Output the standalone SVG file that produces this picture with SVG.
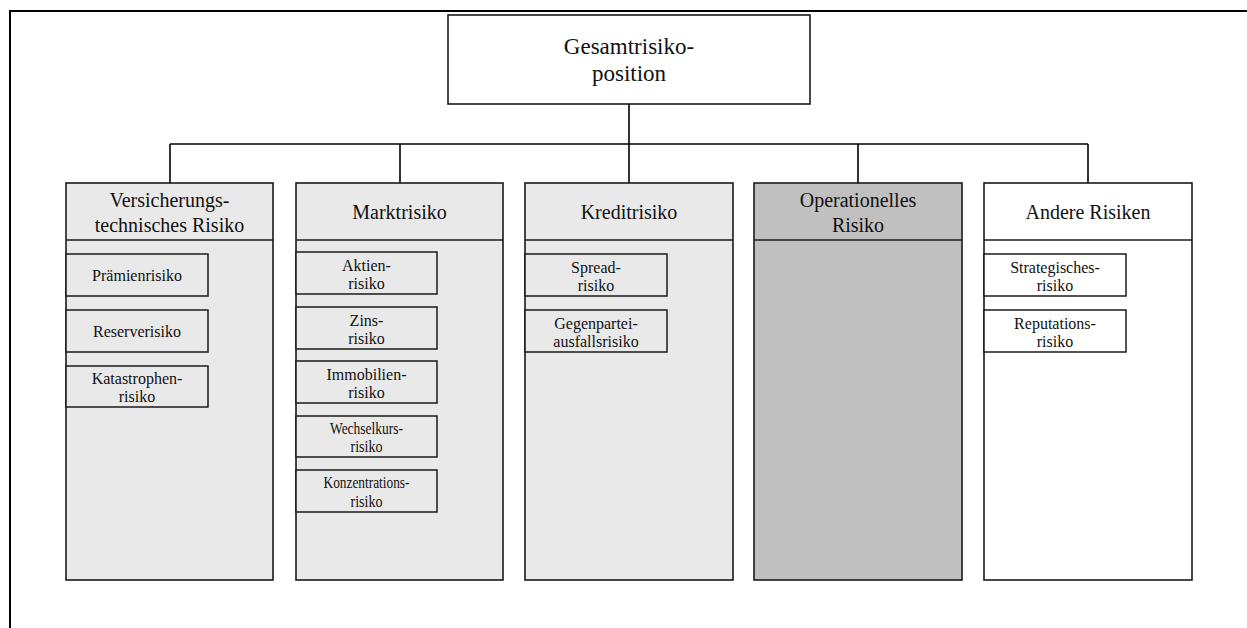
<svg xmlns="http://www.w3.org/2000/svg" width="1247" height="628" viewBox="0 0 1247 628">
<style>
text{font-family:"Liberation Serif","Times New Roman",serif;fill:#111;text-anchor:middle}
.col{stroke:#1a1a1a;stroke-width:1.6}
.lg{fill:#e9e9e9}.dg{fill:#c0c0c0}.wh{fill:#fff}
.sub{stroke:#1a1a1a;stroke-width:1.5}
.hd{font-size:20px}.st{font-size:16px}.tp{font-size:23px}
.conn line{stroke:#000;stroke-width:1.6}
</style>
<rect width="1247" height="628" fill="#fff"/>
<g id="frame"><polyline points="10,628 10,11 1247,11" fill="none" stroke="#000" stroke-width="2"/></g>
<g class="conn" id="connectors">
<line x1="629" y1="104" x2="629" y2="183"/>
<line x1="170" y1="144" x2="1088" y2="144"/>
<line x1="170" y1="144" x2="170" y2="183"/>
<line x1="400" y1="144" x2="400" y2="183"/>
<line x1="858" y1="144" x2="858" y2="183"/>
<line x1="1088" y1="144" x2="1088" y2="183"/>
</g>
<g id="top">
<rect x="448" y="15" width="362" height="89" class="wh" stroke="#1a1a1a" stroke-width="1.6"/>
<text x="629" y="54" class="tp">Gesamtrisiko-</text>
<text x="629" y="81" class="tp">position</text>
</g>
<g id="versicherung">
<rect x="66" y="183" width="207" height="397" class="col lg"/>
<line x1="66" y1="240" x2="273" y2="240" class="col"/>
<text x="169.5" y="207" class="hd">Versicherungs-</text>
<text x="169.5" y="232" class="hd">technisches Risiko</text>
<g id="praemien"><rect x="66" y="254" width="142" height="42" class="sub lg"/><text x="137" y="280.5" class="st">Prämienrisiko</text></g>
<g id="reserve"><rect x="66" y="310" width="142" height="42" class="sub lg"/><text x="137" y="336.5" class="st">Reserverisiko</text></g>
<g id="katastrophen"><rect x="66" y="366" width="142" height="41" class="sub lg"/><text x="137" y="383.5" class="st">Katastrophen-</text><text x="137" y="401.5" class="st">risiko</text></g>
</g>
<g id="markt">
<rect x="296" y="183" width="207" height="397" class="col lg"/>
<line x1="296" y1="240" x2="503" y2="240" class="col"/>
<text x="399.5" y="219" class="hd">Marktrisiko</text>
<g id="aktien"><rect x="296" y="252" width="141" height="42" class="sub lg"/><text x="366.5" y="270.5" class="st">Aktien-</text><text x="366.5" y="289" class="st">risiko</text></g>
<g id="zins"><rect x="296" y="307" width="141" height="42" class="sub lg"/><text x="366.5" y="325.5" class="st">Zins-</text><text x="366.5" y="344" class="st">risiko</text></g>
<g id="immobilien"><rect x="296" y="361" width="141" height="42" class="sub lg"/><text x="366.5" y="379.5" class="st">Immobilien-</text><text x="366.5" y="398" class="st">risiko</text></g>
<g id="wechselkurs"><rect x="296" y="416" width="141" height="41" class="sub lg"/><text x="366.5" y="433.5" class="st" textLength="73" lengthAdjust="spacingAndGlyphs">Wechselkurs-</text><text x="366.5" y="452" class="st" textLength="32" lengthAdjust="spacingAndGlyphs">risiko</text></g>
<g id="konzentration"><rect x="296" y="470" width="141" height="42" class="sub lg"/><text x="366.5" y="488" class="st" textLength="86" lengthAdjust="spacingAndGlyphs">Konzentrations-</text><text x="366.5" y="506.5" class="st" textLength="32" lengthAdjust="spacingAndGlyphs">risiko</text></g>
</g>
<g id="kredit">
<rect x="525" y="183" width="208" height="397" class="col lg"/>
<line x1="525" y1="240" x2="733" y2="240" class="col"/>
<text x="629" y="219" class="hd">Kreditrisiko</text>
<g id="spread"><rect x="525" y="254" width="142" height="42" class="sub lg"/><text x="596" y="272.5" class="st">Spread-</text><text x="596" y="291" class="st">risiko</text></g>
<g id="gegenpartei"><rect x="525" y="310" width="142" height="42" class="sub lg"/><text x="596" y="328.5" class="st">Gegenpartei-</text><text x="596" y="347" class="st">ausfallsrisiko</text></g>
</g>
<g id="operationell">
<rect x="754" y="183" width="208" height="397" class="col dg"/>
<line x1="754" y1="240" x2="962" y2="240" class="col"/>
<text x="858" y="207" class="hd">Operationelles</text>
<text x="858" y="232" class="hd">Risiko</text>
</g>
<g id="andere">
<rect x="984" y="183" width="208" height="397" class="col wh"/>
<line x1="984" y1="240" x2="1192" y2="240" class="col"/>
<text x="1088" y="219" class="hd">Andere Risiken</text>
<g id="strategisch"><rect x="984" y="254" width="142" height="42" class="sub wh"/><text x="1055" y="272.5" class="st">Strategisches-</text><text x="1055" y="291" class="st">risiko</text></g>
<g id="reputation"><rect x="984" y="310" width="142" height="42" class="sub wh"/><text x="1055" y="328.5" class="st">Reputations-</text><text x="1055" y="347" class="st">risiko</text></g>
</g>
</svg>
